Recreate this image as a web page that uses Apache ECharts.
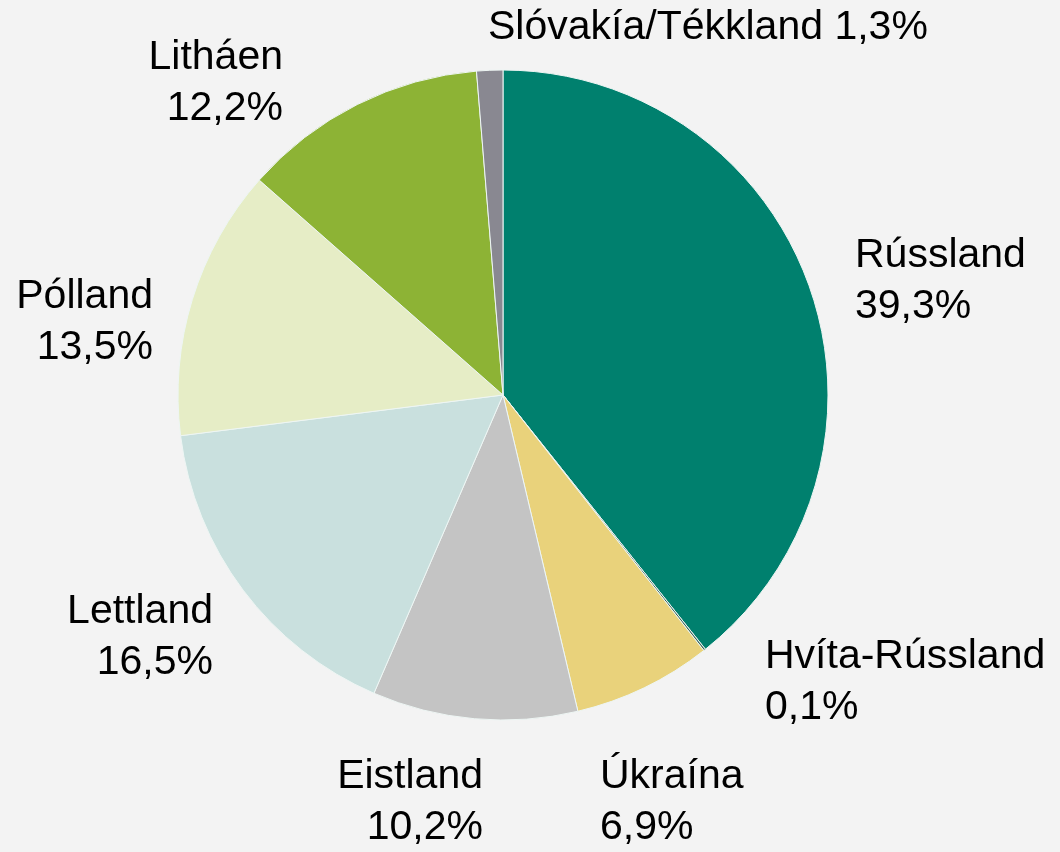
<!DOCTYPE html>
<html>
<head>
<meta charset="utf-8">
<script src="https://cdn.jsdelivr.net/npm/echarts@6/dist/echarts.min.js"></script>
<style>
  html, body { margin: 0; padding: 0; background: #f3f3f3; }
  #chart { width: 1060px; height: 852px; }
</style>
</head>
<body>
<div id="chart"></div>
<script>
var countries = ['Rússland', 'Hvíta-Rússland', 'Úkraína', 'Eistland', 'Lettland', 'Pólland', 'Litháen', 'Slóvakía/Tékkland'];
var shares = [39.3, 0.1, 6.9, 10.2, 16.5, 13.5, 12.2, 1.3];
var colors = ['#00806e', '#3d6a5c', '#e9d27b', '#c4c4c4', '#c9e0de', '#e6edc6', '#8db335', '#898891'];

// where each label block sits: [x, y, align]
var labelSpots = [
    [855, 281, 'left'],
    [765, 682, 'left'],
    [600, 802, 'left'],
    [483, 802, 'right'],
    [213, 637, 'right'],
    [153, 322, 'right'],
    [283, 83, 'right'],
    [488, 28, 'left']
];

var chartDom = document.getElementById('chart');
var myChart = echarts.init(chartDom);

function fmt(v) {
    return v.toFixed(1).replace('.', ',') + '%';
}

var option = {
    backgroundColor: '#f3f3f3',
    animation: false,
    series: [{
        type: 'pie',
        center: [503, 395],
        radius: 325,
        startAngle: 90,
        clockwise: true,
        avoidLabelOverlap: false,
        itemStyle: {
            borderColor: '#eef6f4',
            borderWidth: 1
        },
        label: {
            show: true,
            position: 'outside',
            color: '#000000',
            fontFamily: 'Liberation Sans, Arial, sans-serif',
            fontSize: 41,
            lineHeight: 51,
            formatter: function (p) {
                if (p.dataIndex === 7) {
                    return p.name + ' ' + fmt(p.value);
                }
                return p.name + '\n' + fmt(p.value);
            }
        },
        labelLine: { show: false },
        labelLayout: function (params) {
            var s = labelSpots[params.dataIndex];
            return {
                x: s[0],
                y: s[1],
                align: s[2],
                verticalAlign: 'middle',
                hideOverlap: false
            };
        },
        data: countries.map(function (name, i) {
            return { name: name, value: shares[i], itemStyle: { color: colors[i] } };
        })
    }]
};

option && myChart.setOption(option);
</script>
</body>
</html>
